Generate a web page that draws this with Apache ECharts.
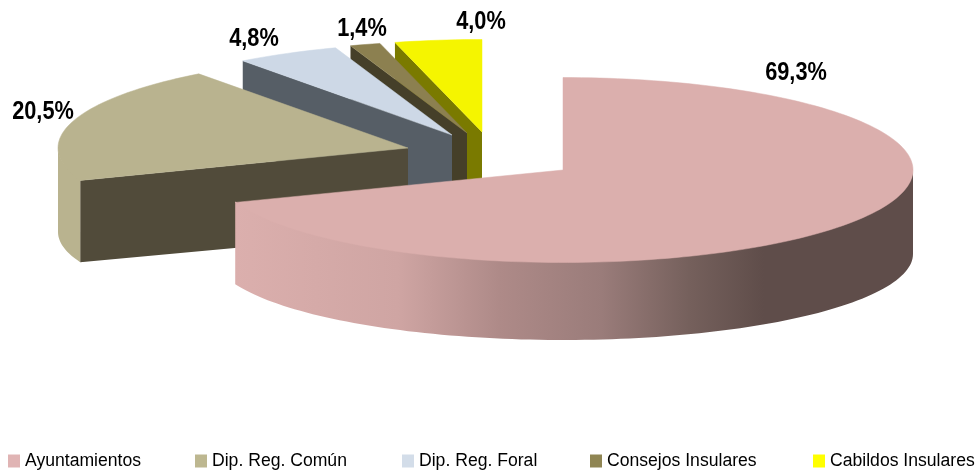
<!DOCTYPE html>
<html>
<head>
<meta charset="utf-8">
<title>Reparto</title>
<script src="https://cdn.jsdelivr.net/npm/echarts@6/dist/echarts.min.js"></script>
<style>
  html, body { margin: 0; padding: 0; background: #fff; }
  #chart { width: 978px; height: 470px; }
</style>
</head>
<body>
<div id="chart"></div>
<script>
// valores
var categories = ['Ayuntamientos', 'Dip. Reg. Común', 'Dip. Reg. Foral', 'Consejos Insulares', 'Cabildos Insulares'];
var values = [69.3, 20.5, 4.8, 1.4, 4.0];
var valueLabels = ['69,3%', '20,5%', '4,8%', '1,4%', '4,0%'];

// colores
var topColors = ['#dbafad', '#b9b38f', '#cdd8e6', '#8c8050', '#f5f500'];
var wallColors = ['#5f4d4a', '#514b3a', '#565e66', '#453f29', '#7a7a00'];
var legendColors = ['#e0b4b4', '#bdb790', '#d3dde9', '#8f8553', '#ffff00'];

// disposicion: centro de cada porcion separada, etiquetas y leyenda
var sliceCenters = [[563, 170], [408, 148], [452, 135], [467, 133], [482, 132]];
var labelPositions = [[796, 73], [43, 112], [254, 39], [362, 29], [481, 22]];
var legendLefts = [8, 195, 402, 590, 813];
var RX = 350;
var RY = 92.5;
var RY_BOTTOM = 86; // el borde inferior se ve algo mas plano
var DEPTH = 84;

var total = values.reduce(function (a, b) { return a + b; }, 0);

function rimPoint(c, deg, ry, dy) {
  var t = deg * Math.PI / 180;
  return [c[0] + RX * Math.sin(t), c[1] - ry * Math.cos(t) + dy];
}

function arcPoints(c, from, to, ry, dy) {
  var pts = [];
  var steps = Math.max(2, Math.ceil((to - from) / 1.5));
  for (var i = 0; i <= steps; i++) {
    pts.push(rimPoint(c, from + (to - from) * i / steps, ry, dy));
  }
  return pts;
}

function wallFill(index) {
  if (index !== 0) return topColors[index];
  // sombreado de la pared exterior de izquierda a derecha
  return new echarts.graphic.LinearGradient(0, 0, 1, 0, [
    { offset: 0, color: '#dbafad' },
    { offset: 0.24, color: '#cfa5a3' },
    { offset: 0.39, color: '#ae8a88' },
    { offset: 0.54, color: '#9a7c7a' },
    { offset: 0.67, color: '#75605c' },
    { offset: 0.78, color: '#5f4d4a' },
    { offset: 1, color: '#5f4d4a' }
  ]);
}

function makeRenderItem(index) {
  return function (params, api) {
    var c = sliceCenters[index];
    var before = 0;
    for (var i = 0; i < index; i++) before += values[i];
    var start = before / total * 360;
    var end = start + api.value(0) / total * 360;
    var children = [];

    // pared del corte
    if (index > 0) {
      children.push({
        type: 'polygon',
        shape: {
          points: [
            c,
            rimPoint(c, start, RY, 0),
            rimPoint(c, start, RY_BOTTOM, DEPTH),
            [c[0], c[1] + DEPTH]
          ]
        },
        style: { fill: wallColors[index] }
      });
    }

    // pared exterior, solo la mitad delantera
    var from = Math.max(start, 90);
    var to = Math.min(end, 270);
    if (to > from) {
      // sube 1px por debajo de la cara para que no quede costura
      var upper = arcPoints(c, from, to, RY, -1);
      var lower = arcPoints(c, from, to, RY_BOTTOM, DEPTH).reverse();
      children.push({
        type: 'polygon',
        shape: { points: upper.concat(lower) },
        style: { fill: wallFill(index) }
      });
    }

    // cara superior
    children.push({
      type: 'polygon',
      shape: { points: [c].concat(arcPoints(c, start, end, RY, 0)) },
      style: { fill: topColors[index], stroke: topColors[index], lineWidth: 0.5 }
    });

    children.push({
      type: 'text',
      x: labelPositions[index][0],
      y: labelPositions[index][1],
      scaleX: 0.87,
      style: {
        x: 0,
        y: 0,
        text: valueLabels[index],
        fill: '#000',
        font: 'bold 25px "Liberation Sans", sans-serif',
        textAlign: 'center',
        textVerticalAlign: 'middle'
      },
      z2: 10
    });

    return { type: 'group', children: children };
  };
}

var seriesList = categories.map(function (name, i) {
  return {
    name: name,
    type: 'custom',
    coordinateSystem: 'none',
    z: 2 + categories.length - i,
    silent: true,
    itemStyle: { color: legendColors[i] },
    renderItem: makeRenderItem(i),
    data: [[values[i]]]
  };
});

var legendList = categories.map(function (name, i) {
  return {
    data: [name],
    left: legendLefts[i],
    top: 452,
    padding: 0,
    icon: 'rect',
    itemWidth: 12,
    itemHeight: 13,
    selectedMode: false,
    textStyle: {
      color: '#000',
      fontSize: 17.6,
      fontFamily: '"Liberation Sans", sans-serif'
    }
  };
});

var myChart = echarts.init(document.getElementById('chart'));
myChart.setOption({
  backgroundColor: '#fff',
  animation: false,
  legend: legendList,
  series: seriesList
});
</script>
</body>
</html>
